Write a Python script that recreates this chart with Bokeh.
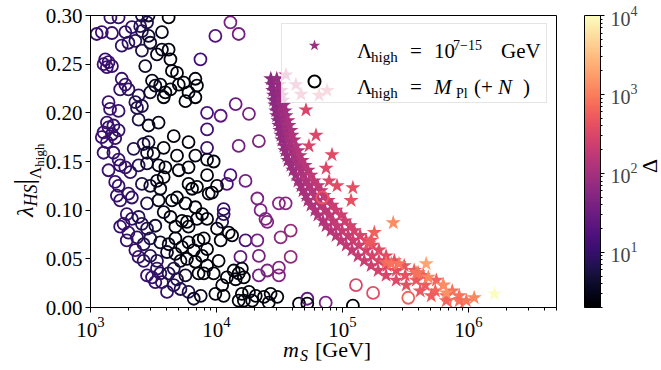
from bokeh.plotting import figure
from bokeh.models import (ColumnDataSource, LogColorMapper, ColorBar, LogTicker, FixedTicker,
                          PrintfTickFormatter, Legend, LegendItem, Range1d, Div)
from bokeh.layouts import column
from bokeh.palettes import Magma256
from bokeh.embed import file_html
from bokeh.resources import INLINE

# ---------------- data ----------------
# open circles: Lambda_high = M_Pl (+N)
circ_m = [
    1440, 1670, 2560, 2890, 4170, 1120, 1230, 1480, 1890, 2130,
    2480, 2810, 2560, 2890, 3690, 2980, 2000, 1770, 2270, 3690,
    4170, 2560, 3370, 4310, 1310, 1390, 1270, 1480, 1350, 2720,
    4860, 4430, 7460, 1770, 1890, 1720, 2000, 3080, 3270, 3580,
    3930, 3810, 4310, 5020, 5500, 6000, 6800, 7000, 6800, 5670,
    2410, 2270, 2340, 2560, 2980, 1390, 1430, 1670, 1350, 1390,
    1520, 1670, 1270, 1230, 1350, 1480, 1570, 2410, 2890, 3470,
    4580, 6000, 8420, 8420, 8420, 1270, 1520, 1670, 2200, 2640,
    2890, 2810, 3170, 3810, 4860, 6800, 8420,
    12900, 9800, 15000, 14200, 10800, 18100, 15000, 21700, 9500,
    1390, 1720, 1890, 2070, 2410, 2810, 3470, 3930, 5020, 6000,
    8420, 1570, 1670, 2560, 2980, 3580, 3370, 3810, 6000, 6400,
    7000, 8670, 1620, 1720, 2000, 2130, 2810, 3470, 4430, 4860,
    5670, 6800, 7690, 8420, 7000, 1940, 2130, 2410, 1830, 1720,
    2000, 2560, 2810, 3270, 3810, 4310, 5330, 5830, 4720, 6000,
    1940, 2340, 2640, 2980, 3580, 4170, 4720, 5330, 6000, 7200,
    7930, 8420, 6600, 2270, 2410, 2640, 2980, 3370, 4050, 4720,
    5180, 5830, 6800, 7690, 8420, 7930, 2810, 3080, 3370, 3580,
    3270, 3690, 4170, 4580, 4860, 5670, 7200, 4050, 4580, 5180,
    6000, 6600, 7500,
    12900, 12100, 10100, 9200, 17000, 21100, 22400, 24500, 25300, 31300,
    35400, 69200, 11400, 11400, 11100, 10100, 12500, 13300, 10800, 17000,
    21100, 32300, 38800, 15500, 21700, 38800, 10400, 25300, 31300, 31300,
    21700, 13700, 15000, 15900, 12100, 14200, 16500, 9500, 11100, 9800,
    11400, 15900, 18100, 20500, 19200, 16500, 23800, 26900, 30400, 26000,
    45200, 52600, 52600, 73600, 15000, 121000, 128000, 175000, 333000, 800000,
]
circ_lam = [
    0.298, 0.298, 0.300, 0.300, 0.298, 0.281, 0.283, 0.282, 0.283, 0.288,
    0.289, 0.293, 0.284, 0.279, 0.283, 0.272, 0.272, 0.269, 0.274, 0.265,
    0.265, 0.264, 0.260, 0.255, 0.255, 0.252, 0.250, 0.248, 0.247, 0.248,
    0.241, 0.243, 0.255, 0.235, 0.229, 0.224, 0.224, 0.233, 0.228, 0.229,
    0.221, 0.216, 0.224, 0.229, 0.231, 0.221, 0.235, 0.228, 0.216, 0.212,
    0.218, 0.211, 0.205, 0.207, 0.221, 0.211, 0.204, 0.202, 0.190, 0.185,
    0.187, 0.182, 0.180, 0.175, 0.170, 0.178, 0.174, 0.193, 0.187, 0.190,
    0.176, 0.170, 0.200, 0.183, 0.164, 0.159, 0.159, 0.152, 0.163, 0.168,
    0.170, 0.159, 0.158, 0.164, 0.156, 0.156, 0.152,
    0.293, 0.279, 0.281, 0.209, 0.197, 0.199, 0.166, 0.171, 0.150,
    0.141, 0.146, 0.144, 0.139, 0.146, 0.148, 0.146, 0.144, 0.141, 0.144,
    0.136, 0.129, 0.125, 0.127, 0.125, 0.122, 0.130, 0.134, 0.127, 0.122,
    0.124, 0.117, 0.115, 0.110, 0.117, 0.113, 0.107, 0.110, 0.110, 0.113,
    0.107, 0.103, 0.096, 0.091, 0.091, 0.096, 0.091, 0.093, 0.086, 0.083,
    0.077, 0.086, 0.081, 0.084, 0.098, 0.093, 0.089, 0.088, 0.083, 0.083,
    0.069, 0.072, 0.065, 0.071, 0.067, 0.065, 0.071, 0.062, 0.067, 0.069,
    0.071, 0.060, 0.059, 0.059, 0.052, 0.048, 0.053, 0.048, 0.057, 0.055,
    0.048, 0.050, 0.047, 0.053, 0.043, 0.035, 0.033, 0.031, 0.040, 0.035,
    0.026, 0.026, 0.035, 0.040, 0.029, 0.033, 0.035, 0.016, 0.023, 0.019,
    0.016, 0.009, 0.012,
    0.136, 0.127, 0.125, 0.118, 0.130, 0.112, 0.100, 0.091, 0.088, 0.107,
    0.107, 0.113, 0.101, 0.096, 0.088, 0.081, 0.077, 0.074, 0.069, 0.069,
    0.069, 0.072, 0.079, 0.052, 0.053, 0.052, 0.048, 0.038, 0.041, 0.033,
    0.033, 0.038, 0.035, 0.040, 0.031, 0.029, 0.031, 0.035, 0.023, 0.014,
    0.012, 0.014, 0.016, 0.012, 0.007, 0.007, 0.011, 0.014, 0.011, 0.005,
    0.004, 0.009, 0.004, 0.005, 0.007, 0.002, 0.023, 0.015, 0.010, 0.004,
]
circ_delta = [
    10, 10, 6, 4, 2.5, 11, 11, 10, 9, 9,
    7, 6, 7, 4, 3, 4, 9, 9, 7, 3,
    2.5, 6, 3, 2.5, 11, 11, 11, 10, 11, 4,
    2.5, 2.5, 13, 10, 10, 10, 9, 3, 3, 3,
    2.5, 2.5, 2.5, 2.5, 2.5, 2.5, 2.5, 2.5, 2.5, 2.5,
    7, 7, 7, 6, 4, 11, 11, 10, 11, 11,
    10, 10, 11, 11, 11, 10, 10, 6, 3, 3,
    2.5, 2.5, 15, 13, 11, 11, 10, 10, 7, 6,
    4, 4, 3, 2.5, 2.5, 2.5, 3,
    40, 18, 35, 30, 22, 40, 35, 45, 2.5,
    11, 10, 10, 9, 7, 4, 3, 2.5, 2.5, 2.5,
    2.5, 10, 10, 6, 4, 3, 3, 2.5, 2.5, 2.5,
    2.5, 2.5, 10, 10, 9, 9, 6, 3, 2.5, 2.5,
    2.5, 2.5, 2.5, 2.5, 2.5, 10, 9, 7, 10, 10,
    10, 7, 6, 4, 3, 2.5, 2.5, 2.5, 2.5, 2.5,
    10, 9, 7, 6, 4, 3, 2.5, 2.5, 2.5, 2.5,
    2.5, 2.5, 2.5, 10, 10, 9, 7, 7, 4, 3,
    3, 2.5, 2.5, 2.5, 2.5, 2.5, 10, 10, 9, 9,
    10, 9, 7, 6, 6, 4, 2.5, 9, 7, 7,
    6, 4, 3,
    15, 15, 2.5, 2.5, 35, 40, 40, 45, 45, 55,
    55, 450, 9, 9, 6, 2.5, 2.5, 2.5, 2.5, 15,
    35, 60, 70, 25, 40, 70, 2.5, 40, 50, 50,
    35, 2.5, 2.5, 2.5, 2.5, 2.5, 2.5, 2.5, 2.5, 2.5,
    2.5, 2.5, 2.5, 2.5, 2.5, 2.5, 2.5, 2.5, 2.5, 2.5,
    2.5, 25, 2.5, 40, 2.5, 2.5, 300, 350, 600, 700,
]

# stars: Lambda_high = 10^(7-15) GeV
star_m = [
    27000, 30100, 27500, 31300,
    28000, 30100, 32500, 28500, 30700, 33100, 28500, 31300, 33700,
    29100, 31900, 34300, 29600, 32500, 35000, 30100, 33100, 35600,
    30700, 33700, 36900, 31300, 34300, 37600, 31900, 35600, 39000,
    32500, 36300, 39700, 33100, 36900, 41200, 34300, 38300, 42700,
    35000, 39700, 44300, 36300, 41200, 46000, 36900, 42000, 47800,
    39000, 44300, 50400, 40500, 46900, 53200, 42700, 48600, 56200,
    44300, 51300, 59400, 46900, 54200, 63800, 48600, 57200, 67600,
    51300, 60400, 71400, 53200, 63800, 76900, 56200, 67600, 82600,
    60400, 72800, 88900, 63800, 78300, 97500, 70000, 84100, 105000,
    74100, 90500, 115000, 81100, 99300, 124000, 88900, 111000, 138000,
    97500, 121000, 154000, 107000, 135000, 172000, 119000, 154000, 195000,
    133000, 172000, 222000, 149000, 195000, 258000, 169000, 226000, 309000,
    192000, 267000, 371000, 222000, 315000, 438000, 267000, 385000, 556000,
    321000, 454000, 631000, 414000, 546000, 744000, 507000, 667000, 845000,
    667000, 845000, 962000,
    35600, 42700, 46900, 65200, 75500, 51300, 61600, 54200, 82600, 74100,
    78300, 90500, 121000, 117000, 179000, 163000, 169000, 253000, 222000, 281000,
    244000, 398000, 385000, 462000, 480000, 631000, 667000, 1110000, 1610000,
]
star_lam = [
    0.235, 0.235, 0.229, 0.229,
    0.223, 0.223, 0.223, 0.218, 0.218, 0.218, 0.213, 0.213, 0.213,
    0.208, 0.208, 0.208, 0.202, 0.202, 0.202, 0.197, 0.197, 0.197,
    0.192, 0.192, 0.192, 0.187, 0.187, 0.187, 0.182, 0.182, 0.182,
    0.177, 0.177, 0.177, 0.172, 0.172, 0.172, 0.166, 0.166, 0.166,
    0.161, 0.161, 0.161, 0.156, 0.156, 0.156, 0.151, 0.151, 0.151,
    0.146, 0.146, 0.146, 0.141, 0.141, 0.141, 0.136, 0.136, 0.136,
    0.130, 0.130, 0.130, 0.125, 0.125, 0.125, 0.120, 0.120, 0.120,
    0.115, 0.115, 0.115, 0.110, 0.110, 0.110, 0.105, 0.105, 0.105,
    0.100, 0.100, 0.100, 0.095, 0.095, 0.095, 0.089, 0.089, 0.089,
    0.084, 0.084, 0.084, 0.079, 0.079, 0.079, 0.074, 0.074, 0.074,
    0.069, 0.069, 0.069, 0.064, 0.064, 0.064, 0.059, 0.059, 0.059,
    0.053, 0.053, 0.053, 0.048, 0.048, 0.048, 0.043, 0.043, 0.043,
    0.038, 0.038, 0.038, 0.033, 0.033, 0.033, 0.028, 0.028, 0.028,
    0.023, 0.023, 0.023, 0.017, 0.017, 0.017, 0.012, 0.012, 0.012,
    0.007, 0.007, 0.007,
    0.239, 0.229, 0.219, 0.218, 0.223, 0.203, 0.177, 0.166, 0.157, 0.143,
    0.130, 0.125, 0.123, 0.110, 0.077, 0.066, 0.069, 0.087, 0.046, 0.045,
    0.045, 0.036, 0.035, 0.045, 0.031, 0.023, 0.015, 0.010, 0.014,
]
star_delta = [
    60, 75, 60, 80,
    60, 70, 85, 60, 70, 85, 60, 75, 90,
    62, 75, 90, 62, 78, 95, 64, 80, 100,
    65, 80, 105, 68, 85, 110, 70, 90, 115,
    70, 90, 120, 72, 95, 125, 75, 95, 130,
    78, 100, 135, 80, 105, 140, 82, 105, 145,
    85, 110, 150, 88, 115, 155, 90, 120, 165,
    95, 125, 170, 100, 130, 175, 105, 135, 180,
    110, 140, 190, 115, 150, 200, 120, 155, 210,
    125, 160, 220, 130, 170, 230, 135, 180, 240,
    140, 185, 250, 150, 195, 260, 160, 210, 280,
    170, 220, 300, 180, 240, 320, 190, 260, 350,
    200, 280, 380, 220, 300, 420, 240, 330, 460,
    270, 380, 520, 300, 420, 580, 340, 480, 650,
    400, 540, 720, 470, 620, 800, 550, 700, 850,
    650, 800, 900,
    150, 200, 250, 300, 300, 300, 320, 300, 350, 330,
    330, 350, 400, 400, 600, 500, 500, 1300, 700, 900,
    800, 900, 800, 2000, 1200, 1300, 1500, 1200, 10000,
]

y_ticks = [0.0, 0.05, 0.10, 0.15, 0.20, 0.25, 0.30]
x_start, x_end = 1e3, 5e6
delta_low, delta_high = 2, 1e4

# ---------------- figure ----------------
FONT = "Liberation Serif"
mapper = LogColorMapper(palette=Magma256, low=delta_low, high=delta_high)

p = figure(width=660, height=368, x_axis_type="log",
           x_range=Range1d(x_start, x_end), y_range=Range1d(y_ticks[0], y_ticks[-1]),
           output_backend="svg", toolbar_location=None,
           min_border_left=90, min_border_right=104, min_border_top=15, min_border_bottom=61)
p.xgrid.visible = False
p.ygrid.visible = False
p.outline_line_color = "black"
p.outline_line_width = 1
p.background_fill_color = "white"
p.border_fill_color = "white"

p.xaxis.ticker = LogTicker(num_minor_ticks=10)
p.yaxis.ticker = FixedTicker(ticks=y_ticks)
p.yaxis.formatter = PrintfTickFormatter(format="%.2f")
for ax in (p.xaxis, p.yaxis):
    ax.axis_line_color = "black"
    ax.major_tick_in = 0
    ax.major_tick_out = 5
    ax.minor_tick_in = 0
    ax.minor_tick_out = 3
    ax.major_tick_line_color = "black"
    ax.minor_tick_line_color = "black"
    ax.major_label_text_font = FONT
    ax.major_label_text_font_size = "21px"
    ax.major_label_text_color = "black"
p.yaxis.minor_tick_line_color = None
p.yaxis.major_label_standoff = 3
p.xaxis.major_label_standoff = 4

star_src = ColumnDataSource(dict(m=star_m, lam=star_lam, d=star_delta))
circ_src = ColumnDataSource(dict(m=circ_m, lam=circ_lam, d=circ_delta))

p.scatter("m", "lam", source=star_src, marker="star", size=16,
          fill_color={"field": "d", "transform": mapper}, line_color=None)
p.scatter("m", "lam", source=circ_src, marker="circle", size=12,
          fill_color=None, line_color={"field": "d", "transform": mapper}, line_width=1.8)

# legend (proxy glyphs with a single undefined point; rich labels drawn as HTML text below)
nan = float("nan")
leg_star = p.scatter(x=[nan], y=[nan], marker="star", size=12, fill_color="#9c2e7f", line_color=None)
leg_circ = p.scatter(x=[nan], y=[nan], marker="circle", size=12, fill_color=None,
                     line_color="black", line_width=2)
legend = Legend(items=[LegendItem(label=" ", renderers=[leg_star]),
                       LegendItem(label=" ", renderers=[leg_circ])],
                location=(191, 204), padding=6, spacing=6, glyph_width=52, glyph_height=30,
                label_height=30, label_width=195, label_standoff=5, margin=0,
                background_fill_alpha=0.8, border_line_color="#cccccc", border_line_width=1)
p.add_layout(legend)

# colour bar
cb = ColorBar(color_mapper=mapper, ticker=LogTicker(num_minor_ticks=10), width=16, height=292,
              location=(28, 0), padding=0, margin=0,
              major_label_text_font=FONT, major_label_text_font_size="20px",
              major_tick_in=0, major_tick_out=4, minor_tick_in=0, minor_tick_out=2,
              major_tick_line_color="black", minor_tick_line_color="black",
              bar_line_color="black", label_standoff=6, border_line_color=None,
              background_fill_alpha=0)
p.add_layout(cb, "right")

# ---------------- rich text (HTML overlay, page pixel positions) ----------------
SERIF = "'Liberation Serif', serif"
ASC = 0.84  # baseline position inside a line-height:1 box, as a fraction of font size


def piece(text, px, py, size, italic=False):
    style = "italic" if italic else "normal"
    return (f'<div style="position:absolute;left:{px}px;top:{py - ASC * size:.1f}px;'
            f'font:{style} {size}px {SERIF};line-height:1;white-space:nowrap;color:#000">'
            f'{text}</div>')


def rotated(inner, px, py, size):
    # text runs upwards starting at page y=py, its baseline on page x=px
    return (f'<div style="position:absolute;left:{px - ASC * size:.1f}px;top:{py}px;'
            f'transform-origin:0 0;transform:rotate(-90deg);font:normal {size}px {SERIF};'
            f'line-height:1;white-space:nowrap;color:#000">{inner}</div>')


parts = []
# legend labels
for base in (54, 90):
    parts.append(piece("Λ", 352, base, 21))
    parts.append(piece("high", 366, base + 4, 15))
    parts.append(piece("=", 405, base, 21))
parts.append(piece("10", 429, 54, 21))
parts.append(piece("7−15", 448, 46, 14))
parts.append(piece("GeV", 496, 54, 21))
parts.append(piece("M", 429, 90, 21, italic=True))
parts.append(piece("Pl", 451, 94, 14))
parts.append(piece("(+", 469, 90, 21))
parts.append(piece("N", 493, 90, 21, italic=True))
parts.append(piece(")", 518, 90, 21))
# x axis label
parts.append(piece("m", 278, 352, 22, italic=True))
parts.append(piece("S", 295, 356, 16, italic=True))
parts.append(piece("[GeV]", 310, 352, 22))
# y axis label
ylab = ('<i>λ</i>'
        '<i style="font-size:18px;position:relative;top:4px">HS</i>'
        '<span style="font-size:28px">|</span>'
        '<span style="font-size:17px;position:relative;top:8px">Λ'
        '<span style="font-size:13px;position:relative;top:3px">high</span></span>')
parts.append(rotated(ylab, 25, 212, 24))
# colour bar label
parts.append(rotated("Δ", 652, 168, 22))

overlay = Div(text="".join(parts), width=661, height=370,
              styles={"position": "absolute", "left": "0px", "top": "0px",
                      "pointer-events": "none", "overflow": "visible"})

page = column(p, overlay)
open("out.html", "w").write(file_html(page, INLINE))
